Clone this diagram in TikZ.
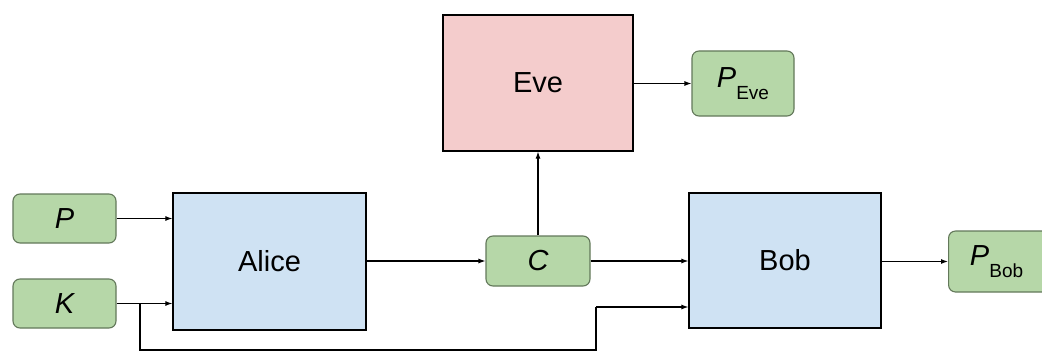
\documentclass[tikz,border=0pt]{standalone}
\usepackage{fontspec}
\setmainfont{Liberation Sans}
\usetikzlibrary{arrows.meta}
\definecolor{gfill}{HTML}{B6D7A8}
\definecolor{gdraw}{HTML}{63785A}
\definecolor{bfill}{HTML}{CFE2F3}
\definecolor{pfill}{HTML}{F4CCCC}
\begin{document}
\begin{tikzpicture}[x=1pt,y=-1pt,
  big/.style={draw=black,line width=1.2pt,inner sep=0pt,font=\fontsize{29}{32}\selectfont},
  val/.style={draw=gdraw,fill=gfill,line width=1.1pt,rounded corners=7pt,inner sep=0pt,font=\fontsize{29}{32}\selectfont\itshape},
  conn/.style={line width=1.1pt,-{Latex[length=7pt,width=5pt]}},
  wire/.style={line width=1.1pt}]
\useasboundingbox (0,0) rectangle (1042,353);
% big boxes
\node[big,fill=pfill,minimum width=190pt,minimum height=136pt] (eve) at (538,83) {Eve};
\node[big,fill=bfill,minimum width=193pt,minimum height=137pt] (alice) at (269.5,261.5) {Alice};
\node[big,fill=bfill,minimum width=192pt,minimum height=135pt] (bob) at (785,260.5) {Bob};
% value boxes
\node[val,minimum width=103pt,minimum height=49pt] (p) at (64.5,218.5) {P};
\node[val,minimum width=103pt,minimum height=49pt] (k) at (64.5,303.5) {K};
\node[val,minimum width=104pt,minimum height=50pt] (c) at (538,261) {C};
\node[val,minimum width=102pt,minimum height=65pt] (peve) at (743,83.5) {P\raisebox{-12pt}{\fontsize{19}{22}\selectfont\upshape Eve}};
\node[val,minimum width=100pt,minimum height=61pt,anchor=west] (pbob) at (948,261.5) {P\raisebox{-12pt}{\fontsize{19}{22}\selectfont\upshape Bob}\hspace*{4pt}};
% connectors
\coordinate (kj) at (140,303.5);
\draw[conn] (p.east) -- (p.east -| alice.west);
\draw[conn] (k.east) -- (k.east -| alice.west);
\draw[conn] (alice.east |- c.west) -- (c.west);
\draw[conn] (c.east) -- (c.east -| bob.west);
\draw[conn] (c.north) -- (eve.south);
\draw[conn] (eve.east |- peve.west) -- (peve.west);
\draw[conn] (bob.east |- pbob.west) -- (pbob.west);
\coordinate (b1) at (140,350);
\coordinate (b2) at (596,350);
\coordinate (b3) at (596,307);
\draw[wire] (kj) -- (b1) -- (b2) -- (b3);
\draw[conn] (b3) -- (b3 -| bob.west);
\end{tikzpicture}
\end{document}
